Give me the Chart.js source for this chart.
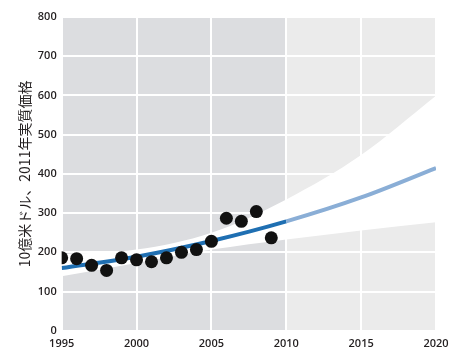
<!DOCTYPE html>
<html>
<head>
<meta charset="utf-8">
<script src="https://cdn.jsdelivr.net/npm/chart.js@4.4.1/dist/chart.umd.min.js"></script>
<style>
  body { margin: 0; background: #fff; }
  #chart { display: block; }
</style>
</head>
<body>
<canvas id="chart" width="469" height="360"></canvas>
<script>
const years = [1995, 1996, 1997, 1998, 1999, 2000, 2001, 2002, 2003, 2004, 2005, 2006, 2007, 2008, 2009];
const values = [186, 184, 167, 154, 186, 181, 176, 186, 200, 207, 228, 287, 279, 304, 237];

// trend line and its confidence band
const trendYears = [1995, 2000, 2005, 2010, 2015, 2020];
const trend = [160, 189, 229, 279, 340, 415];
const bandUpper = [195, 207, 250, 335, 448, 599];
const bandLower = [139, 173, 207, 233, 256, 277];

const forecastFrom = 2010;
const xTicks = [1995, 2000, 2005, 2010, 2015, 2020];
const yTicks = [0, 100, 200, 300, 400, 500, 600, 700, 800];

const toPoints = (xs, ys) => xs.map((x, i) => ({ x: x, y: ys[i] }));

// grey panels: darker for the history, lighter for the projection
const panels = {
    id: 'panels',
    beforeDraw(chart) {
        const { ctx, chartArea: a, scales: { x } } = chart;
        const split = x.getPixelForValue(forecastFrom);
        ctx.save();
        ctx.fillStyle = '#dcdde0';
        ctx.fillRect(a.left, a.top, split - a.left, a.bottom - a.top);
        ctx.fillStyle = '#ebebeb';
        ctx.fillRect(split, a.top, a.right - split, a.bottom - a.top);
        ctx.restore();
    }
};

const tickFont = { family: 'Open Sans', size: 11, weight: '600' };

const ctx = document.getElementById('chart').getContext('2d');
const chart = new Chart(ctx, {
    type: 'scatter',
    data: {
        datasets: [
            {
                label: 'actual',
                data: toPoints(years, values),
                backgroundColor: '#111111',
                borderWidth: 0,
                pointRadius: 6.5,
                order: 0
            },
            {
                label: 'trend',
                type: 'line',
                data: toPoints(trendYears, trend),
                borderWidth: 4,
                pointRadius: 0,
                cubicInterpolationMode: 'monotone',
                segment: {
                    borderColor: c => c.p0.parsed.x >= forecastFrom ? '#8aaed6' : '#1f6fb2'
                },
                fill: false,
                order: 1
            },
            {
                label: 'upper',
                type: 'line',
                data: toPoints(trendYears, bandUpper),
                borderWidth: 0,
                pointRadius: 0,
                cubicInterpolationMode: 'monotone',
                backgroundColor: '#ffffff',
                fill: '+1',
                order: 2
            },
            {
                label: 'lower',
                type: 'line',
                data: toPoints(trendYears, bandLower),
                borderWidth: 0,
                pointRadius: 0,
                cubicInterpolationMode: 'monotone',
                fill: false,
                order: 3
            }
        ]
    },
    options: {
        responsive: false,
        animation: false,
        layout: { padding: { left: 16, right: 33, top: 17, bottom: 4 } },
        plugins: {
            legend: { display: false },
            tooltip: { enabled: false }
        },
        scales: {
            x: {
                type: 'linear',
                min: 1995,
                max: 2020,
                afterBuildTicks: s => { s.ticks = xTicks.map(v => ({ value: v })); },
                grid: { color: '#ffffff', lineWidth: 2, drawTicks: false },
                border: { display: false },
                ticks: {
                    color: '#231f20',
                    font: tickFont,
                    padding: 6,
                    maxRotation: 0,
                    callback: v => String(v)
                }
            },
            y: {
                min: 0,
                max: 800,
                afterBuildTicks: s => { s.ticks = yTicks.map(v => ({ value: v })); },
                grid: { color: '#ffffff', lineWidth: 2, drawTicks: false },
                border: { display: false },
                ticks: {
                    color: '#231f20',
                    font: tickFont,
                    padding: 5,
                    callback: v => String(v)
                },
                title: {
                    display: true,
                    text: '10億米ドル、2011年実質価格',
                    color: '#231f20',
                    font: { family: 'Noto Sans CJK JP', size: 14 },
                    padding: { top: 0, bottom: 0 }
                }
            }
        }
    },
    plugins: [panels]
});
</script>
</body>
</html>
